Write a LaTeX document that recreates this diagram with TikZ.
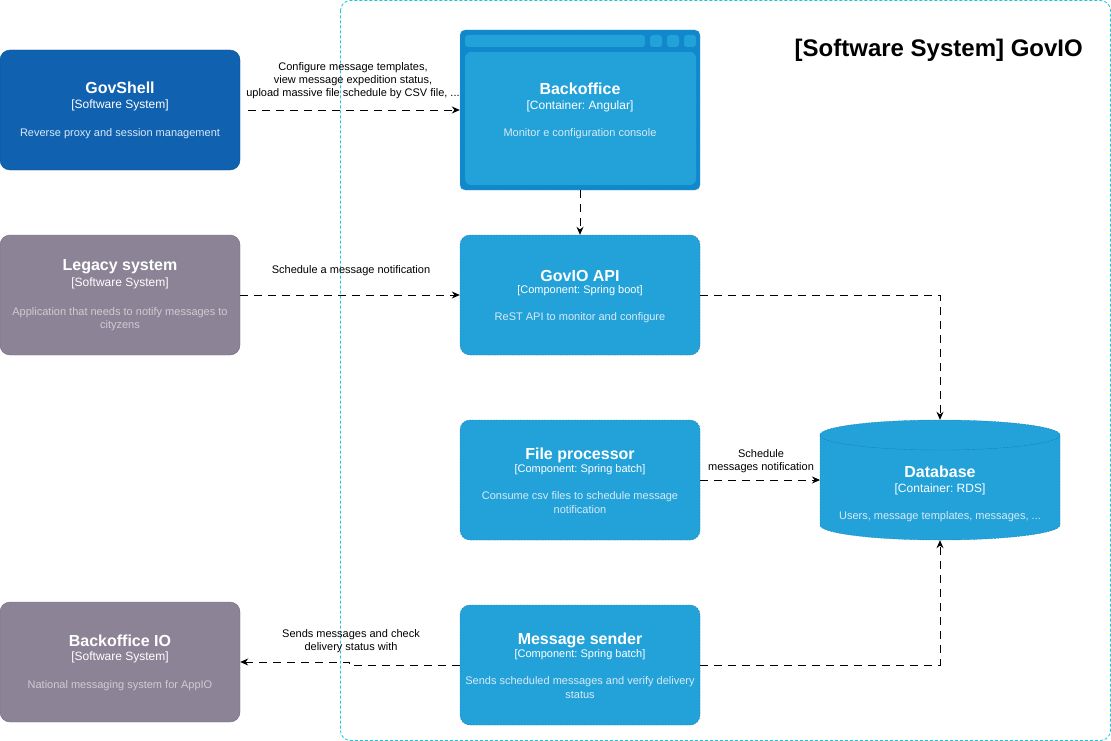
\documentclass[tikz,border=0pt]{standalone}
\usepackage{fontspec}
\setmainfont{Liberation Sans}
\usetikzlibrary{arrows.meta}
\frenchspacing
\definecolor{sysfill}{HTML}{1061B0}
\definecolor{sysline}{HTML}{0D5091}
\definecolor{extfill}{HTML}{8C8496}
\definecolor{extline}{HTML}{736782}
\definecolor{confill}{HTML}{23A2D9}
\definecolor{conline}{HTML}{0E7DBE}
\definecolor{condark}{HTML}{1187CC}
\definecolor{bound}{HTML}{1CC8D6}
\definecolor{desctxt}{HTML}{D8EAF6}
\definecolor{extdesc}{HTML}{CFCBD3}
\begin{document}
\begin{tikzpicture}[x=1pt,y=-1pt,
  box/.style={rounded corners=10pt, minimum width=240pt, minimum height=120pt, inner sep=0pt},
  sysbox/.style={box, fill=sysfill, draw=sysline},
  extbox/.style={box, fill=extfill, draw=extline},
  conbox/.style={box, fill=confill, draw=conline, dash pattern=on 2pt off 1pt},
  ttl/.style={text=white, font=\fontsize{16}{19}\selectfont\bfseries, inner sep=0pt},
  subt/.style={text=white, font=\fontsize{12}{14}\selectfont, inner sep=0pt},
  subc/.style={text=white, font=\fontsize{11}{13}\selectfont, inner sep=0pt},
  dsc/.style={text=desctxt, font=\fontsize{11}{13.5}\selectfont, align=center, inner sep=0pt},
  edsc/.style={dsc, text=extdesc},
  elabel/.style={text=black, font=\fontsize{11}{13}\selectfont, align=center, inner sep=0pt},
  rel/.style={draw=black, line width=0.9pt, dash pattern=on 8pt off 6pt, -{Stealth[length=8pt,width=7pt]}},
  bnd/.style={draw=bound, line width=0.8pt, dash pattern=on 3pt off 2pt, rounded corners=10pt}
]
\useasboundingbox (0,0) rectangle (1111,741);
% boundary
\draw[bnd] (340.5,0.5) rectangle (1110.5,740.5);
\node[inner sep=0pt, font=\fontsize{24}{28}\selectfont\bfseries, anchor=east] (btitle) at (1083,50) {[Software System] GovIO};

% GovShell
\node[sysbox] (gs) at (120,110) {};
\node[ttl] (gst) at (120,88) {GovShell};
\node[subt] (gss) at (120,105) {[Software System]};
\node[dsc] (gsd) at (120,134) {Reverse proxy and session management};

% Legacy
\node[extbox] (leg) at (120,295) {};
\node[ttl] (legt) at (120,267) {Legacy system};
\node[subt] (legs) at (120,283) {[Software System]};
\node[edsc] (legd) at (120,319) {Application that needs to notify messages to\\cityzens};

% Backoffice IO
\node[extbox] (bio) at (120,662) {};
\node[ttl] (biot) at (120,641) {Backoffice IO};
\node[subt] (bios) at (120,657) {[Software System]};
\node[edsc] (biod) at (120,686) {National messaging system for AppIO};

% Backoffice (browser window)
\node[box, minimum height=160pt, fill=condark, draw=conline!70, dash pattern=on 2pt off 1pt, rounded corners=5pt] (bo) at (580,110) {};
\fill[confill, rounded corners=3pt] (465,35) rectangle (645,47);
\fill[confill, rounded corners=3pt] (650,35) rectangle (662,47);
\fill[confill, rounded corners=3pt] (667,35) rectangle (679,47);
\fill[confill, rounded corners=3pt] (684,35) rectangle (696,47);
\fill[confill, rounded corners=6pt] (465,52) rectangle (696,185);
\node[ttl] (bot) at (580,89) {Backoffice};
\node[subt] (bos) at (580,106) {[Container: Angular]};
\node[dsc] (bod) at (580,134) {Monitor e configuration console};

% GovIO API
\node[conbox] (api) at (580,295) {};
\node[ttl] (apit) at (580,276) {GovIO API};
\node[subc] (apis) at (580,291) {[Component: Spring boot]};
\node[dsc] (apid) at (580,318) {ReST API to monitor and configure};

% File processor
\node[conbox] (fp) at (580,480) {};
\node[ttl] (fpt) at (580,455) {File processor};
\node[subc] (fps) at (580,470) {[Component: Spring batch]};
\node[dsc] (fpd) at (580,502.5) {Consume csv files to schedule message\\notification};

% Message sender
\node[conbox] (ms) at (580,665) {};
\node[ttl] (mst) at (580,640) {Message sender};
\node[subc] (mss) at (580,655) {[Component: Spring batch]};
\node[dsc] (msd) at (580,687.5) {Sends scheduled messages and verify delivery\\status};

% Database cylinder
\node[minimum width=240pt, minimum height=120pt, inner sep=0pt] (db) at (940,480) {};
\path[fill=confill, draw=conline, dash pattern=on 2pt off 1pt]
  (820,435) -- (820,525) arc[start angle=180, end angle=360, x radius=120, y radius=-15]
  -- (1060,435) arc[start angle=0, end angle=180, x radius=120, y radius=-15] -- cycle;
\draw[conline, dash pattern=on 2pt off 1pt] (820,435) arc[start angle=180, end angle=360, x radius=120, y radius=-15];
\node[ttl] (dbt) at (940,472) {Database};
\node[subt] (dbs) at (940,489) {[Container: RDS]};
\node[dsc] (dbd) at (940,517) {Users, message templates, messages, ...};

% relations
\coordinate (gsout) at (248,110);
\draw[rel] (gsout) -- (bo.west);
\node[elabel] (l1) at (353,81) {Configure message templates,\\view message expedition status,\\upload massive file schedule by CSV file, ...};

\draw[rel] (leg.east) -- (api.west);
\node[elabel] (l2) at (351,271) {Schedule a message notification};

\draw[rel] (bo.south) -- (api.north);

\draw[rel] (api.east) -| (db.north);

\draw[rel] (fp.east) -- (820,480);
\node[elabel] (l3) at (761,461) {Schedule\\messages notification};

\draw[rel] (ms.east) -| (db.south);

\coordinate (jog1) at (349,665);
\coordinate (jog2) at (349,662);
\draw[rel] (ms.west) -- (jog1) -- (jog2) -- (bio.east);
\node[elabel] (l4) at (351,641) {Sends messages and check\\delivery status with};
\end{tikzpicture}
\end{document}
